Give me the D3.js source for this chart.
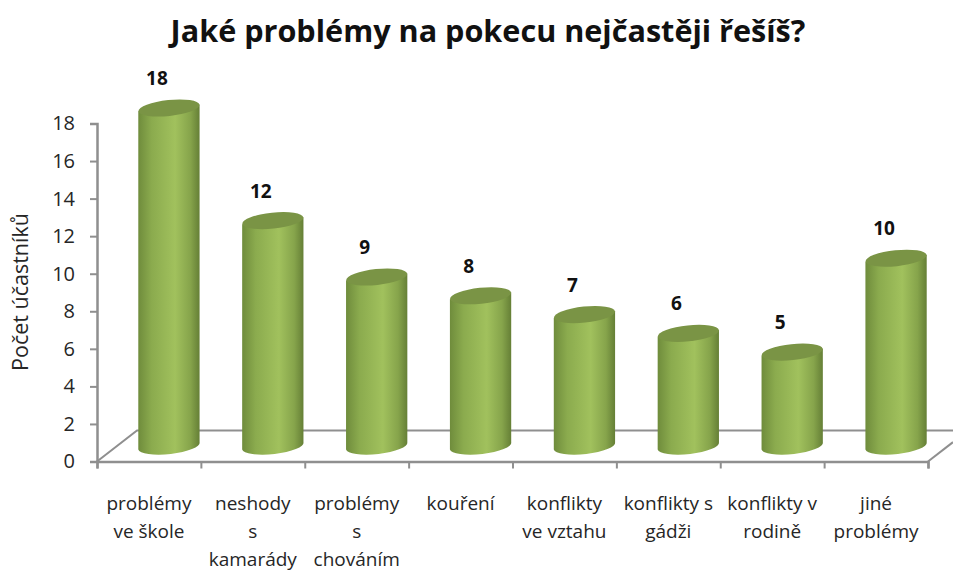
<!DOCTYPE html>
<html>
<head>
<meta charset="utf-8">
<script src="https://cdn.jsdelivr.net/npm/d3@7"></script>
<style>
  html, body { margin: 0; padding: 0; background: #fff; }
  text { font-family: "Open Sans", sans-serif; }
</style>
</head>
<body>
<div id="chart"></div>
<script>
// data
var categories = [
    ["problémy", "ve škole"],
    ["neshody", "s", "kamarády"],
    ["problémy", "s", "chováním"],
    ["kouření"],
    ["konflikty", "ve vztahu"],
    ["konflikty s", "gádži"],
    ["konflikty v", "rodině"],
    ["jiné", "problémy"]
];
var values = [18, 12, 9, 8, 7, 6, 5, 10];
var yTicks = [0, 2, 4, 6, 8, 10, 12, 14, 16, 18];

var width = 953, height = 574;
var left = 97, right = 928, bottom = 461.5, top18 = 123.5;
var depthX = 40, depthY = 31;   // floor offset of the fake 3d
var axisColor = "#8f8f8f", textColor = "#262626";

var svg = d3.select("#chart").append("svg")
    .attr("width", width)
    .attr("height", height);

var grad = svg.append("defs").append("linearGradient")
    .attr("id", "cyl");
grad.append("stop").attr("offset", "0%").attr("stop-color", "#6f8c3c");
grad.append("stop").attr("offset", "22%").attr("stop-color", "#8bab4e");
grad.append("stop").attr("offset", "60%").attr("stop-color", "#a1c15d");
grad.append("stop").attr("offset", "85%").attr("stop-color", "#86a44b");
grad.append("stop").attr("offset", "100%").attr("stop-color", "#657f36");

var x = d3.scaleBand().domain(d3.range(categories.length)).range([left, right]);
var xTick = d3.scaleLinear().domain([0, categories.length]).range([left, right]);
var y = d3.scaleLinear().domain([0, 18]).range([bottom, top18]);

// title
svg.append("text")
    .attr("x", 488)
    .attr("y", 42)
    .attr("text-anchor", "middle")
    .attr("font-size", "30.6px")
    .attr("font-weight", "bold")
    .attr("fill", "#111")
    .text("Jaké problémy na pokecu nejčastěji řešíš?");

// floor and back wall
var floor = svg.append("g")
    .attr("fill", "none")
    .attr("stroke", axisColor)
    .attr("stroke-width", 2);
floor.append("path").attr("d", d3.line()([[left, bottom], [left + depthX, bottom - depthY], [width, bottom - depthY]]));
floor.append("path").attr("d", d3.line()([[right, bottom], [width, bottom - depthY * 25 / depthX]]));

// axes
var yAxis = svg.append("g")
    .attr("transform", "translate(" + left + ",0)")
    .call(d3.axisLeft(y).tickValues(yTicks).tickSize(7).tickPadding(15));
var xAxis = svg.append("g")
    .attr("transform", "translate(0," + bottom + ")")
    .call(d3.axisBottom(xTick).tickValues(d3.range(categories.length + 1)).tickSize(7).tickFormat(""));
[yAxis, xAxis].forEach(function (a) {
    a.selectAll("path").attr("stroke", axisColor).attr("stroke-width", 2.5);
    a.selectAll("line").attr("stroke", axisColor).attr("stroke-width", 2);
});
yAxis.selectAll("text")
    .attr("font-size", "20px")
    .attr("fill", textColor)
    .style("font-family", "'Open Sans', sans-serif");

// y axis title
svg.append("text")
    .attr("transform", "translate(28,292) rotate(-90)")
    .attr("text-anchor", "middle")
    .attr("font-size", "21.5px")
    .attr("fill", textColor)
    .text("Počet účastníků");

// category labels
var labels = svg.selectAll(".cat").data(categories).enter().append("text")
    .attr("class", "cat")
    .attr("text-anchor", "middle")
    .attr("font-size", "19px")
    .attr("fill", textColor);
labels.selectAll("tspan").data(function (d, i) {
        return d.map(function (line) { return { line: line, i: i }; });
    }).enter().append("tspan")
    .attr("x", function (d) { return x(d.i) + x.bandwidth() / 2; })
    .attr("y", function (d, k) { return 510 + k * 28; })
    .text(function (d) { return d.line; });

// cylinders
var rx = x.bandwidth() * 0.295, ry = 8, tilt = -6, skew = 3.5;
var cylX = function (i) { return x(i) + x.bandwidth() / 2 + depthX / 2; };
var cylY = function (v) { return y(v) - depthY / 2; };

var bars = svg.selectAll(".bar").data(values).enter().append("g").attr("class", "bar");
bars.append("path")
    .attr("fill", "url(#cyl)")
    .attr("d", function (d, i) {
        var cx = cylX(i), t = cylY(d), b = cylY(0);
        return "M" + (cx - rx) + "," + (t + skew) +
            "L" + (cx + rx) + "," + (t - skew) +
            "L" + (cx + rx) + "," + (b - skew) +
            "A" + rx + "," + ry + " " + tilt + " 0 1 " + (cx - rx) + "," + (b + skew) + "Z";
    });
bars.append("ellipse")
    .attr("rx", rx)
    .attr("ry", ry)
    .attr("fill", "#7a9445")
    .attr("transform", function (d, i) {
        return "translate(" + cylX(i) + "," + cylY(d) + ") rotate(" + tilt + ")";
    });

// value labels
svg.selectAll(".val").data(values).enter().append("text")
    .attr("class", "val")
    .attr("x", function (d, i) { return x(i) + x.bandwidth() / 2 + 8; })
    .attr("y", function (d) { return cylY(d) - 23; })
    .attr("text-anchor", "middle")
    .attr("font-size", "19px")
    .attr("font-weight", "bold")
    .attr("fill", "#111")
    .text(function (d) { return d; });
</script>
</body>
</html>
